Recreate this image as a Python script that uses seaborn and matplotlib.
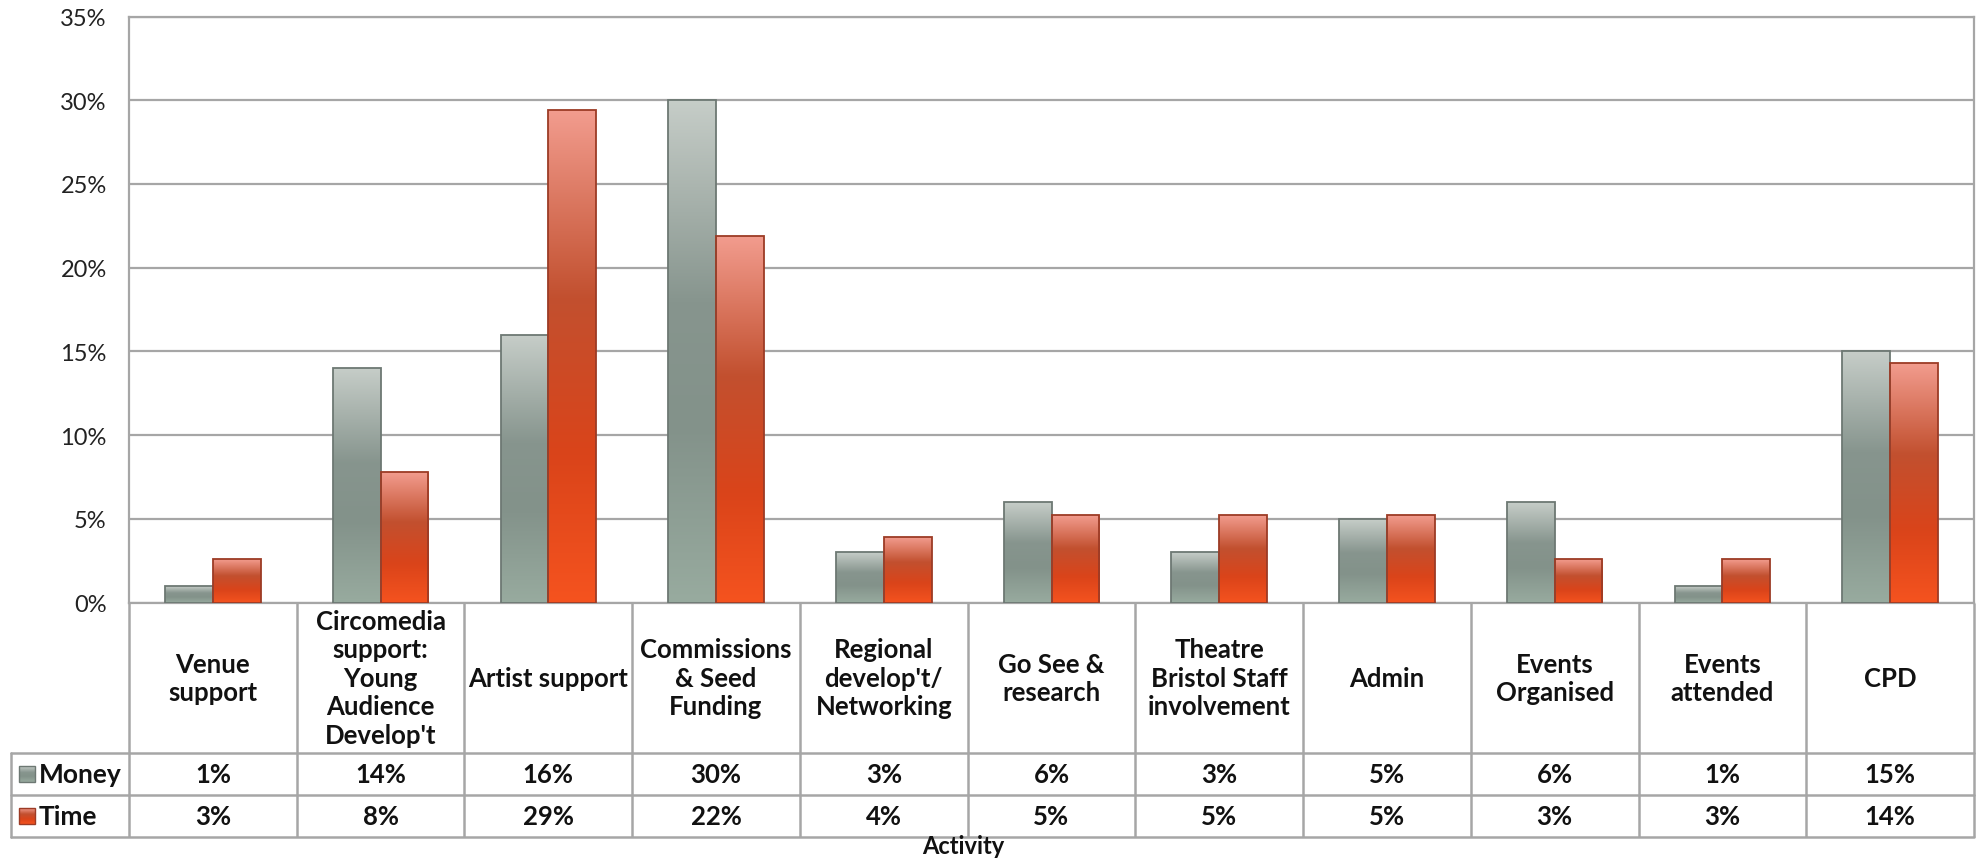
import numpy as np
import pandas as pd
import matplotlib
matplotlib.use("Agg")
import matplotlib.pyplot as plt
import seaborn as sns
from matplotlib.colors import LinearSegmentedColormap
from matplotlib.ticker import PercentFormatter, MultipleLocator

# --- data -----------------------------------------------------------------
activities = [
    "Venue\nsupport",
    "Circomedia\nsupport:\nYoung\nAudience\nDevelop't",
    "Artist support",
    "Commissions\n& Seed\nFunding",
    "Regional\ndevelop't/\nNetworking",
    "Go See &\nresearch",
    "Theatre\nBristol Staff\ninvolvement",
    "Admin",
    "Events\nOrganised",
    "Events\nattended",
    "CPD",
]
money = [1.0, 14.0, 16.0, 30.0, 3.0, 6.0, 3.0, 5.0, 6.0, 1.0, 15.0]
time = [2.6, 7.8, 29.4, 21.9, 3.9, 5.2, 5.2, 5.2, 2.6, 2.6, 14.3]
series = ["Money", "Time"]
x_title = "Activity"

df = pd.DataFrame({
    "activity": activities * 2,
    "share": money + time,
    "series": [series[0]] * len(money) + [series[1]] * len(time),
})

# --- style ----------------------------------------------------------------
sns.set_style("white")
plt.rcParams["font.family"] = ["Lato", "DejaVu Sans"]
grid_col = "#a6a6a6"

W, H, DPI = 1984, 862, 100
fig = plt.figure(figsize=(W / DPI, H / DPI), dpi=DPI)

# plot area in pixel terms
px_left, px_right, px_top, px_base = 129, 1974, 17.5, 603.5
ax = fig.add_axes([px_left / W, 1 - px_base / H,
                   (px_right - px_left) / W, (px_base - px_top) / H])

sns.barplot(data=df, x="activity", y="share", hue="series",
            palette={"Money": "#87958e", "Time": "#c9482a"},
            width=0.57, saturation=1, legend=False, ax=ax, zorder=3)

# vertical gradients inside each bar
money_cmap = LinearSegmentedColormap.from_list(
    "money", [(0.0, "#98ab9f"), (0.35, "#83928a"), (0.6, "#87958e"), (1.0, "#c6cdc8")])
time_cmap = LinearSegmentedColormap.from_list(
    "time", [(0.0, "#f5531f"), (0.3, "#da441a"), (0.62, "#c2502f"), (1.0, "#f29c8e")])
edges = ["#6d7873", "#9c3b25"]
grad = np.linspace(0, 1, 256).reshape(-1, 1)
for container, cmap, ec in zip(ax.containers, [money_cmap, time_cmap], edges):
    for bar in container:
        x0, y0 = bar.get_x(), bar.get_y()
        w, h = bar.get_width(), bar.get_height()
        ax.imshow(grad, extent=[x0, x0 + w, y0, y0 + h], origin="lower",
                  aspect="auto", cmap=cmap, zorder=3, interpolation="bicubic")
        bar.set_facecolor("none")
        bar.set_edgecolor(ec)
        bar.set_linewidth(1.3)
        bar.set_zorder(4)

ax.set_xlim(-0.5, len(activities) - 0.5)
ax.set_ylim(0, 35)
ax.yaxis.set_major_locator(MultipleLocator(5))
ax.yaxis.set_major_formatter(PercentFormatter(decimals=0))
ax.grid(axis="y", color=grid_col, linewidth=1.6, zorder=0)
ax.set_axisbelow(True)
ax.tick_params(axis="y", length=0, pad=16, labelsize=17, labelcolor="#222222")
ax.tick_params(axis="x", length=0, labelbottom=False)
ax.set_xlabel("")
ax.set_ylabel("")
for side, sp in ax.spines.items():
    sp.set_color(grid_col)
    sp.set_linewidth(1.6)

# --- data table below the plot ---------------------------------------------
ov = fig.add_axes([0, 0, 1, 1], zorder=5)
ov.set_xlim(0, W)
ov.set_ylim(H, 0)
ov.axis("off")
ov.patch.set_alpha(0)

row_cat, row_money, row_time = 754, 796, 838
tbl_left = 11


def col_px(xdata):
    return ax.transData.transform((xdata, 0))[0]


n = len(activities)
bounds = [col_px(i - 0.5) for i in range(n + 1)]
lw = 1.8
for b in bounds:
    ov.plot([b, b], [px_base, row_time], color=grid_col, lw=lw, solid_capstyle="butt")
ov.plot([tbl_left, tbl_left], [row_cat, row_time], color=grid_col, lw=lw)
for yy in (row_cat, row_money, row_time):
    ov.plot([tbl_left, bounds[-1]], [yy, yy], color=grid_col, lw=lw)

txt_kw = dict(ha="center", va="center", fontsize=18.5, fontweight="bold",
              color="#111111", linespacing=1.22)
for i, (lab, m, t) in enumerate(zip(activities, money, time)):
    cx = col_px(i)
    ov.text(cx, (px_base + row_cat) / 2, lab, **txt_kw)
    ov.text(cx, (row_cat + row_money) / 2, f"{round(m):.0f}%", **txt_kw)
    ov.text(cx, (row_money + row_time) / 2, f"{round(t):.0f}%", **txt_kw)

# legend keys in the row headers
for (label, cmap, ec), (r0, r1) in zip(
        [(series[0], money_cmap, edges[0]), (series[1], time_cmap, edges[1])],
        [(row_cat, row_money), (row_money, row_time)]):
    cy = (r0 + r1) / 2
    ov.imshow(grad, extent=[19, 35, cy + 8, cy - 8], origin="lower",
              aspect="auto", cmap=cmap, zorder=6)
    ov.add_patch(plt.Rectangle((19, cy - 8), 16, 16, fill=False, ec=ec, lw=1, zorder=7))
    ov.text(39, cy, label, ha="left", va="center", fontsize=19,
            fontweight="bold", color="#111111")
ov.set_xlim(0, W)
ov.set_ylim(H, 0)

ov.text(963, 847, x_title, ha="center", va="center", fontsize=17,
        fontweight="bold", color="#111111")

fig.savefig("out.png", dpi=DPI, facecolor="white")
